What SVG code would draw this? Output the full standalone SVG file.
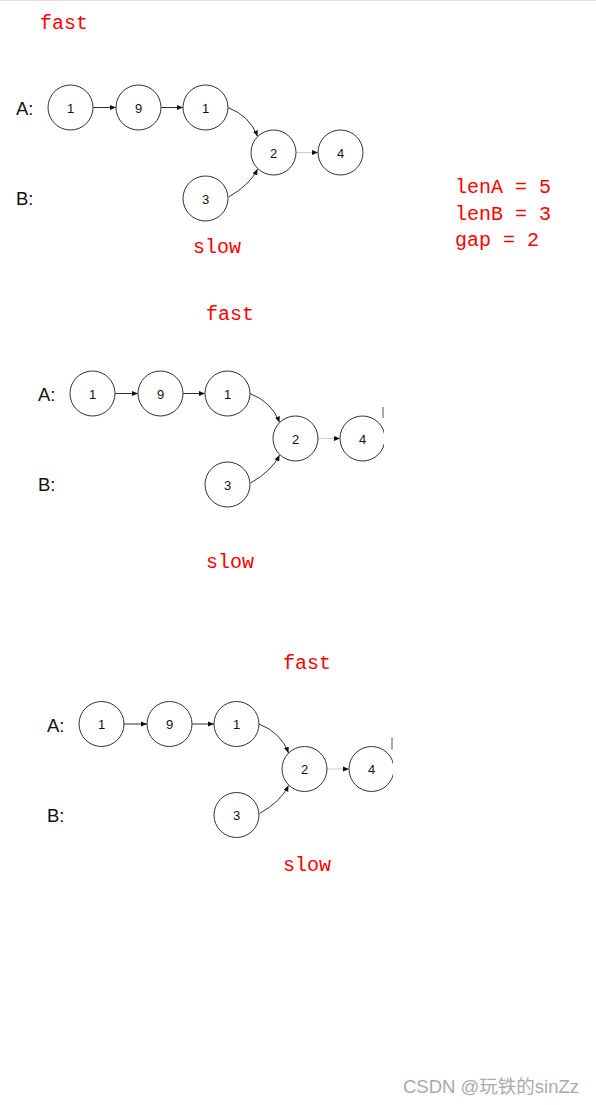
<svg xmlns="http://www.w3.org/2000/svg" width="596" height="1105" viewBox="0 0 596 1105">
<style>
.node circle{fill:#fff;stroke:#333;stroke-width:1}
.node text{font-family:"Liberation Sans",Arial,sans-serif;font-size:13px;fill:#111;text-anchor:middle}
.lbl{font-family:"Liberation Sans",Arial,sans-serif;font-size:18.5px;fill:#111}
.red{font-family:"Liberation Mono","Courier New",monospace;font-size:20px;fill:#ff0000}
.edge{fill:none;stroke:#333;stroke-width:1;marker-end:url(#ah)}
.edge.gray{stroke:#ccc}
.wm{font-family:"Liberation Sans",Arial,"Noto Sans CJK SC",sans-serif;font-size:18.5px;fill:#aaa}
</style>
<defs>
<marker id="ah" markerUnits="userSpaceOnUse" markerWidth="6" markerHeight="6" refX="6" refY="3" orient="auto">
<path d="M0,0.5 L6,3 L0,5.5 z" fill="#111"/>
</marker>
<clipPath id="cut"><rect x="0" y="0" width="362" height="300"/></clipPath>
</defs>
<rect x="0" y="0" width="596" height="1105" fill="#fff"/>
<line x1="0" y1="0.5" x2="596" y2="0.5" stroke="#e0e0e0"/>

<!-- Diagram 1 -->
<g id="diagram1">
<text class="red" x="40" y="29">fast</text>
<text class="red" x="193" y="253">slow</text>
<text class="lbl" x="16" y="115">A:</text>
<text class="lbl" x="16" y="205">B:</text>
<g id="d1-connectors">
<path class="edge" d="M93,107.5 H116"/>
<path class="edge" d="M161,107.5 H183"/>
<path class="edge" d="M228,107.5 Q250,116 257.5,136.5"/>
<path class="edge" d="M228.5,197 Q250,185 257.5,169"/>
<path class="edge gray" d="M296,152.5 H318"/>
</g>
<g id="d1-nA1" class="node"><circle cx="70.5" cy="107.5" r="22.5"/><text x="70.5" y="112.5">1</text></g>
<g id="d1-nA9" class="node"><circle cx="138.5" cy="107.5" r="22.5"/><text x="138.5" y="112.5">9</text></g>
<g id="d1-nA1b" class="node"><circle cx="205.5" cy="107.5" r="22.5"/><text x="205.5" y="112.5">1</text></g>
<g id="d1-n2" class="node"><circle cx="273.5" cy="152.5" r="22.5"/><text x="273.5" y="157.5">2</text></g>
<g id="d1-n4" class="node"><circle cx="340.5" cy="152.5" r="22.5"/><text x="340.5" y="157.5">4</text></g>
<g id="d1-nB3" class="node"><circle cx="205.5" cy="198.5" r="22.5"/><text x="205.5" y="203.5">3</text></g>
</g>
<text class="red" x="455" y="193">lenA = 5</text>
<text class="red" x="455" y="220">lenB = 3</text>
<text class="red" x="455" y="246">gap = 2</text>

<!-- Diagram 2 -->
<text class="red" x="206" y="320">fast</text>
<text class="red" x="206" y="568">slow</text>
<g id="diagram2" transform="translate(22,286)">
<text class="lbl" x="16" y="115">A:</text>
<text class="lbl" x="16" y="205">B:</text>
<g id="d2-connectors">
<path class="edge" d="M93,107.5 H116"/>
<path class="edge" d="M161,107.5 H183"/>
<path class="edge" d="M228,107.5 Q250,116 257.5,136.5"/>
<path class="edge" d="M228.5,197 Q250,185 257.5,169"/>
<path class="edge gray" d="M296,152.5 H318"/>
</g>
<g id="d2-nA1" class="node"><circle cx="70.5" cy="107.5" r="22.5"/><text x="70.5" y="112.5">1</text></g>
<g id="d2-nA9" class="node"><circle cx="138.5" cy="107.5" r="22.5"/><text x="138.5" y="112.5">9</text></g>
<g id="d2-nA1b" class="node"><circle cx="205.5" cy="107.5" r="22.5"/><text x="205.5" y="112.5">1</text></g>
<g id="d2-n2" class="node"><circle cx="273.5" cy="152.5" r="22.5"/><text x="273.5" y="157.5">2</text></g>
<g id="d2-n4" class="node"><circle cx="340.5" cy="152.5" r="22.5" clip-path="url(#cut)"/><text x="340.5" y="157.5">4</text><line x1="361" y1="121" x2="361" y2="132" stroke="#555"/></g>
<g id="d2-nB3" class="node"><circle cx="205.5" cy="198.5" r="22.5"/><text x="205.5" y="203.5">3</text></g>
</g>

<!-- Diagram 3 -->
<text class="red" x="283" y="669">fast</text>
<text class="red" x="283" y="871">slow</text>
<g id="diagram3" transform="translate(31,616.5)">
<text class="lbl" x="16" y="115">A:</text>
<text class="lbl" x="16" y="205">B:</text>
<g id="d3-connectors">
<path class="edge" d="M93,107.5 H116"/>
<path class="edge" d="M161,107.5 H183"/>
<path class="edge" d="M228,107.5 Q250,116 257.5,136.5"/>
<path class="edge" d="M228.5,197 Q250,185 257.5,169"/>
<path class="edge gray" d="M296,152.5 H318"/>
</g>
<g id="d3-nA1" class="node"><circle cx="70.5" cy="107.5" r="22.5"/><text x="70.5" y="112.5">1</text></g>
<g id="d3-nA9" class="node"><circle cx="138.5" cy="107.5" r="22.5"/><text x="138.5" y="112.5">9</text></g>
<g id="d3-nA1b" class="node"><circle cx="205.5" cy="107.5" r="22.5"/><text x="205.5" y="112.5">1</text></g>
<g id="d3-n2" class="node"><circle cx="273.5" cy="152.5" r="22.5"/><text x="273.5" y="157.5">2</text></g>
<g id="d3-n4" class="node"><circle cx="340.5" cy="152.5" r="22.5" clip-path="url(#cut)"/><text x="340.5" y="157.5">4</text><line x1="361" y1="121" x2="361" y2="133" stroke="#555"/></g>
<g id="d3-nB3" class="node"><circle cx="205.5" cy="198.5" r="22.5"/><text x="205.5" y="203.5">3</text></g>
</g>

<text class="wm" x="403" y="1093">CSDN @玩铁的sinZz</text>
</svg>
